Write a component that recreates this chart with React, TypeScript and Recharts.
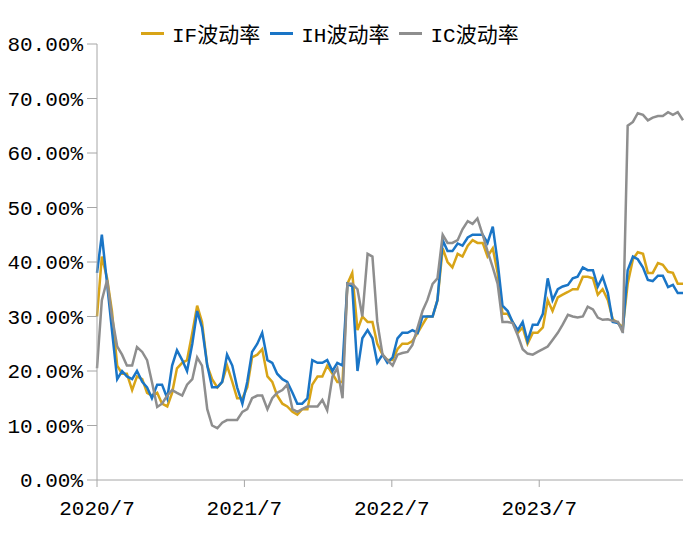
import { LineChart, Line, XAxis, YAxis } from "recharts";

// readings every ~12 days starting 2020/7
const ifVol = [30, 41, 37, 31, 21, 19.5, 19.5, 16.5, 19, 18.5, 16, 15.5, 16, 14, 13.5, 16, 20.5, 21.5, 22, 27,
    32, 29, 21, 18.5, 17, 18, 21, 18, 15, 15, 17, 22.5, 23, 24, 19, 18, 15.5, 14, 13.5, 12.5,
    12, 13, 13, 17.5, 19, 19, 21, 19.5, 18, 18, 36, 38, 27.5, 30, 29, 29, 25, 23, 22, 22,
    24, 25, 25, 25.5, 27, 28.5, 30, 30, 33, 42.5, 40, 39, 41.5, 41, 43, 44, 43.5, 43.5, 41, 42.5,
    38, 30.5, 30.5, 29, 27, 28, 25, 27, 27, 28, 33, 31, 33.5, 34, 34.5, 35, 35, 37.3, 37.3, 37,
    34, 35, 33, 29.5, 28.8, 28, 36, 40.5, 41.8, 41.5, 38, 38, 39.8, 39.5, 38.2, 38, 36, 36];

const ihVol = [38, 45, 36, 27.5, 18.5, 20, 19, 18.5, 20, 18, 17, 15, 17.5, 17.5, 15, 21, 23.8, 22, 20, 25,
    31, 28, 21, 17, 17, 18, 23, 21, 17, 14, 18, 23.5, 25, 27, 22, 21.5, 19.5, 18.5, 18, 16,
    14, 14, 15, 22, 21.5, 21.5, 22, 20, 21.5, 21, 36, 35.5, 20, 26, 27.5, 26, 21.5, 23, 21.5, 22.5,
    26, 27, 27, 27.5, 27, 30, 30, 30, 33, 44, 42, 42, 43.4, 43, 44.5, 45, 45, 45, 43.5, 46.5,
    40, 32, 31, 29, 27.5, 29, 25.5, 28.5, 28.5, 30.5, 37, 33, 35, 35.5, 35.8, 37, 37.3, 39, 38.5, 38.5,
    35.5, 37.3, 34.3, 29, 28.8, 27.5, 38.5, 41, 40.5, 39, 36.7, 36.5, 37.5, 37.5, 35.4, 35.8, 34.3, 34.3];

const icVol = [20.5, 33, 36.7, 30, 24.5, 23, 21, 21, 24.4, 23.5, 22, 18, 13.4, 14, 15.5, 16.5, 16, 15.5, 17.5, 18.5,
    22.5, 21, 13, 10, 9.5, 10.5, 11, 11, 11, 12.5, 13, 15, 15.5, 15.5, 13, 15, 16, 16.5, 17.5, 13,
    12.5, 13, 13.5, 13.5, 13.5, 14.7, 12.8, 19, 20.5, 15, 36, 36, 35, 30, 41.5, 41, 29, 23, 22, 21,
    23, 23.3, 23.5, 24.8, 28, 31, 33, 36, 37, 45, 43.5, 43.5, 44, 46, 47.5, 47, 48, 45, 42, 39,
    36, 29, 29, 28.8, 26.5, 24, 23.2, 23, 23.5, 24, 24.5, 25.7, 27, 28.5, 30.3, 30, 29.8, 30, 31.8, 31.3,
    29.8, 29.4, 29.5, 29.2, 29, 27, 65, 65.7, 67.3, 67, 66, 66.5, 66.8, 66.8, 67.5, 67, 67.5, 66];

const tickLabels = ["2020/7", "2021/7", "2022/7", "2023/7"];
const tickDays = [0, 365, 730, 1095];
const yTicks = [0, 10, 20, 30, 40, 50, 60, 70, 80];

const series = [
    { key: "if", name: "IF波动率", color: "#D8A417" },
    { key: "ih", name: "IH波动率", color: "#1A75C6" },
    { key: "ic", name: "IC波动率", color: "#8E8E8E" },
];

const data = ifVol.map((v, i) => ({ t: Math.round(i * 12.4), if: v, ih: ihVol[i], ic: icVol[i] }));

const font = '"Liberation Mono", "Noto Sans CJK SC", sans-serif';

export default function App() {
    return (
        <div style={{ position: "relative", width: 692, height: 539 }}>
            <div style={{ position: "absolute", top: 10, left: 133, display: "flex", alignItems: "center",
                fontFamily: font, fontSize: 21, color: "#000", zIndex: 1 }}>
                {series.map(s => (
                    <div key={s.key} style={{ display: "flex", alignItems: "center", marginRight: 10 }}>
                        <span style={{ display: "inline-block", width: 23, height: 3, background: s.color, marginRight: 8 }} />
                        <span>{s.name}</span>
                    </div>
                ))}
            </div>
            <LineChart width={692} height={539} data={data} margin={{ top: 36, right: 17, left: 0, bottom: 27 }}>
                <XAxis dataKey="t" type="number" domain={[0, 'dataMax']} ticks={tickDays}
                    tickFormatter={(v) => tickLabels[tickDays.indexOf(v)]}
                    stroke="#A6A6A6" tickSize={7} tickMargin={13} height={40}
                    tick={{ fill: "#000", fontSize: 21, fontFamily: font }} />
                <YAxis domain={[0, 80]} ticks={yTicks} width={89} stroke="#A6A6A6" tickSize={10} tickMargin={4}
                    tickFormatter={(v) => v.toFixed(2) + "%"}
                    tick={{ fill: "#000", fontSize: 21, fontFamily: font }} />
                {series.map(s => (
                    <Line key={s.key} dataKey={s.key} name={s.name} stroke={s.color} strokeWidth={2.5}
                        dot={false} type="linear" isAnimationActive={false} />
                ))}
            </LineChart>
        </div>
    );
}
